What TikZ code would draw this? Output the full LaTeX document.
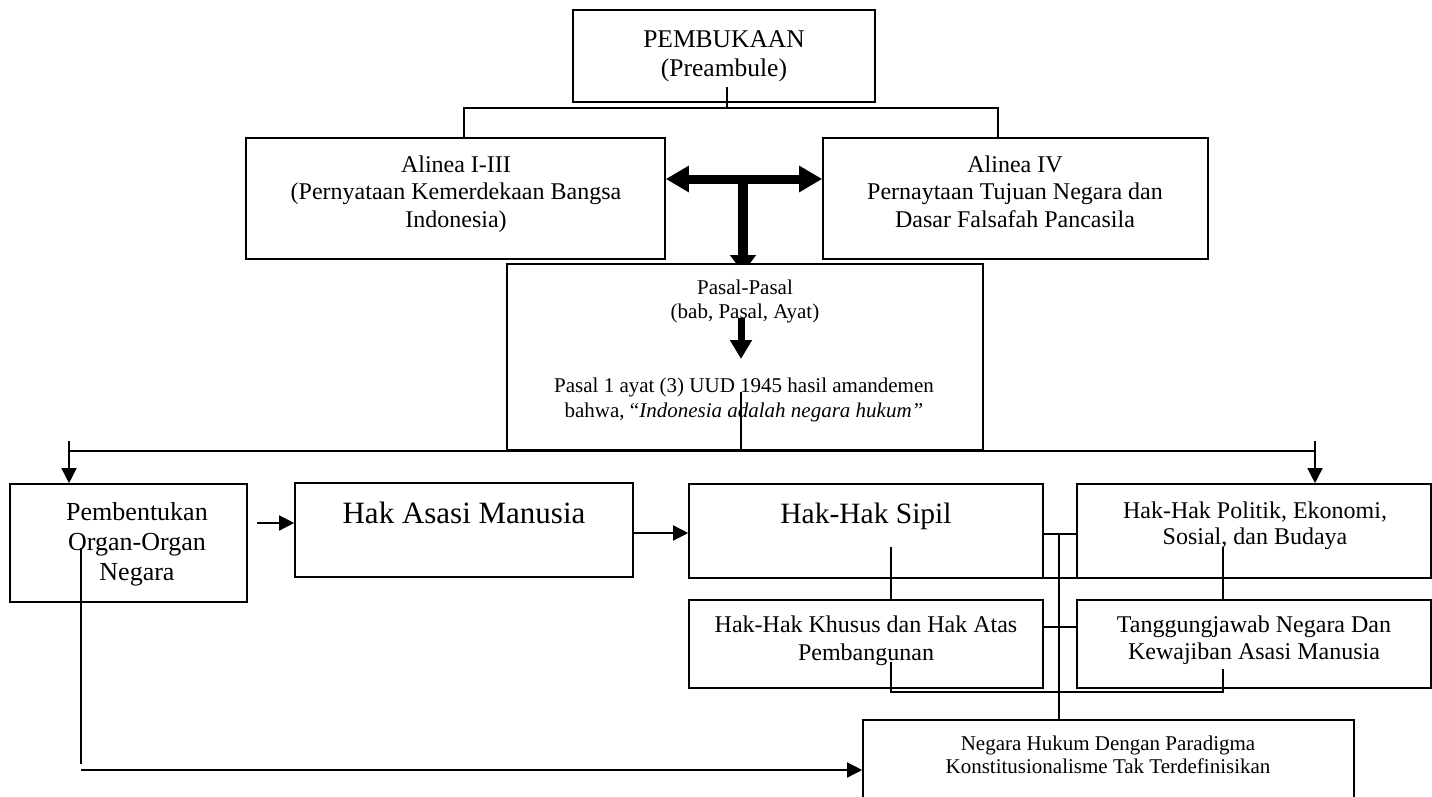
\documentclass[tikz,border=0pt]{standalone}
\usepackage{fontspec}
\setmainfont{Liberation Serif}
\usetikzlibrary{arrows.meta,fit}
\pgfdeclarelayer{bg}
\pgfsetlayers{bg,main}
\begin{document}
\begin{tikzpicture}[x=1pt,y=-1pt,
  box/.style={draw, line width=1.6pt, fill=white, inner sep=0pt, fit={#1}},
  txt/.style={inner sep=0pt, anchor=north, align=center},
  ln/.style={line width=1.4pt},
  arr/.style={line width=1.4pt, -{Triangle[length=15pt,width=15pt]}},
  fatboth/.style={line width=9pt, {Triangle[length=23pt,width=25pt]}-{Triangle[length=23pt,width=25pt]}},
  fatdown/.style={line width=10pt, -{Triangle[length=18pt,width=25pt]}},
  meddown/.style={line width=7pt, -{Triangle[length=19pt,width=21pt]}}]
\useasboundingbox (0,0) rectangle (1432,797);
\clip (0,0) rectangle (1432,797);

% boxes
\node[box={(573,10) (875,102)}] (pemb) {};
\node[box={(246,138) (665,259)}] (al1) {};
\node[box={(823,138) (1208,259)}] (al4) {};
\node[box={(507,264) (983,450)}] (pasal) {};
\node[box={(10,484) (247,602)}] (pemb2) {};
\node[box={(295,483) (633,577)}] (ham) {};
\node[box={(689,484) (1043,578)}] (sipil) {};
\node[box={(1077,484) (1431,578)}] (politik) {};
\node[box={(689,600) (1043,688)}] (khusus) {};
\node[box={(1077,600) (1431,688)}] (tanggung) {};
\node[box={(863,720) (1354,810)}] (negara) {};

% texts
\node[txt, font=\fontsize{25.5}{29}\selectfont] (pembT) at (724,26.7) {\strut PEMBUKAAN\\(Preambule)};
\node[txt, font=\fontsize{24}{27.5}\selectfont] (al1T) at (456,152.75) {\strut Alinea I-III\\(Pernyataan Kemerdekaan Bangsa\\Indonesia)};
\node[txt, font=\fontsize{24}{27.5}\selectfont] (al4T) at (1015,152.75) {\strut Alinea IV\\Pernaytaan Tujuan Negara dan\\Dasar Falsafah Pancasila};
\node[txt, font=\fontsize{21}{24}\selectfont] (pasT1) at (745,277.2) {\strut Pasal-Pasal\\(bab, Pasal, Ayat)};
\node[txt, font=\fontsize{21}{25}\selectfont] (pasT2) at (744,374.5) {\strut Pasal 1 ayat (3) UUD 1945 hasil amandemen\\bahwa, “\textit{Indonesia adalah negara hukum”}};
\node[txt, font=\fontsize{26}{30}\selectfont] (pemb2T) at (137,499) {\strut Pembentukan\\Organ-Organ\\Negara};
\node[txt, font=\fontsize{31}{35}\selectfont] (hamT) at (464,498.5) {\strut Hak Asasi Manusia};
\node[txt, font=\fontsize{29.5}{34}\selectfont] (sipilT) at (866,499.2) {\strut Hak-Hak Sipil};
\node[txt, font=\fontsize{24}{26}\selectfont] (politikT) at (1255,499.8) {\strut Hak-Hak Politik, Ekonomi,\\Sosial, dan Budaya};
\node[txt, font=\fontsize{24}{28}\selectfont] (khususT) at (866,612.4) {\strut Hak-Hak Khusus dan Hak Atas\\Pembangunan};
\node[txt, font=\fontsize{24}{27}\selectfont] (tanggungT) at (1254,613.1) {\strut Tanggungjawab Negara Dan\\Kewajiban Asasi Manusia};
\node[txt, font=\fontsize{21}{23}\selectfont] (negaraT) at (1108,733.9) {\strut Negara Hukum Dengan Paradigma\\Konstitusionalisme Tak Terdefinisikan};

% helper coordinates
\coordinate (pembIn) at (727,87);
\coordinate (bus1) at (727,108);
\coordinate (x464) at (464,0);
\coordinate (x998) at (998,0);
\coordinate (dy) at (0,179);
\coordinate (tj) at (743,179);
\coordinate (tjEnd) at (743,273);
\coordinate (sa1) at (741,318);
\coordinate (sa2) at (741,359);
\coordinate (pasIn) at (741,392);
\coordinate (bus2y) at (0,451);
\coordinate (dL) at (69,441);
\coordinate (dR) at (1315,441);
\coordinate (pbA) at (257,523);
\coordinate (y533) at (0,533);
\coordinate (y534) at (0,534);
\coordinate (y578) at (0,578);
\coordinate (y627) at (0,627);
\coordinate (y692) at (0,692);
\coordinate (y770) at (0,770);
\coordinate (x1059) at (1059,0);
\coordinate (sipIn) at (891,547);
\coordinate (polIn) at (1223,547);
\coordinate (khuIn) at (891,662);
\coordinate (tanIn) at (1223,669);
\coordinate (pbIn) at (81,548);
\coordinate (pbEnd) at (81,764);

% connectors
\begin{pgfonlayer}{bg}
\fill[white] (0,0) rectangle (1432,797);
\draw[fatdown] (tj) -- (tjEnd);
\end{pgfonlayer}
\draw[ln] (pembIn) -- (bus1);
\draw[ln] (al1.north -| x464) |- (bus1) -| (al4.north -| x998);
\draw[fatboth] (al1.east |- dy) -- (al4.west |- dy);
\draw[meddown] (sa1) -- (sa2);
\draw[ln] (pasIn) -- (pasIn |- bus2y);
\draw[ln] (dL |- bus2y) -- (dR |- bus2y);
\draw[arr] (dL) -- (pemb2.north -| dL);
\draw[arr] (dR) -- (politik.north -| dR);
\draw[arr] (pbA) -- (ham.west |- pbA);
\draw[arr] (ham.east |- y533) -- (sipil.west |- y533);
\draw[ln] (sipil.east |- y534) -- (politik.west |- y534);
\draw[ln] (x1059 |- y534) -- (negara.north -| x1059);
\draw[ln] (khusus.east |- y627) -- (tanggung.west |- y627);
\draw[ln] (sipIn) -- (khusus.north -| sipIn);
\draw[ln] (polIn) -- (tanggung.north -| polIn);
\draw[ln] (sipIn |- y578) -- (polIn |- y578);
\draw[ln] (khuIn) |- (tanIn |- y692) -- (tanIn);
\draw[ln] (pbIn) -- (pbEnd);
\draw[arr] (pbEnd |- y770) -- (negara.west |- y770);
\end{tikzpicture}
\end{document}
